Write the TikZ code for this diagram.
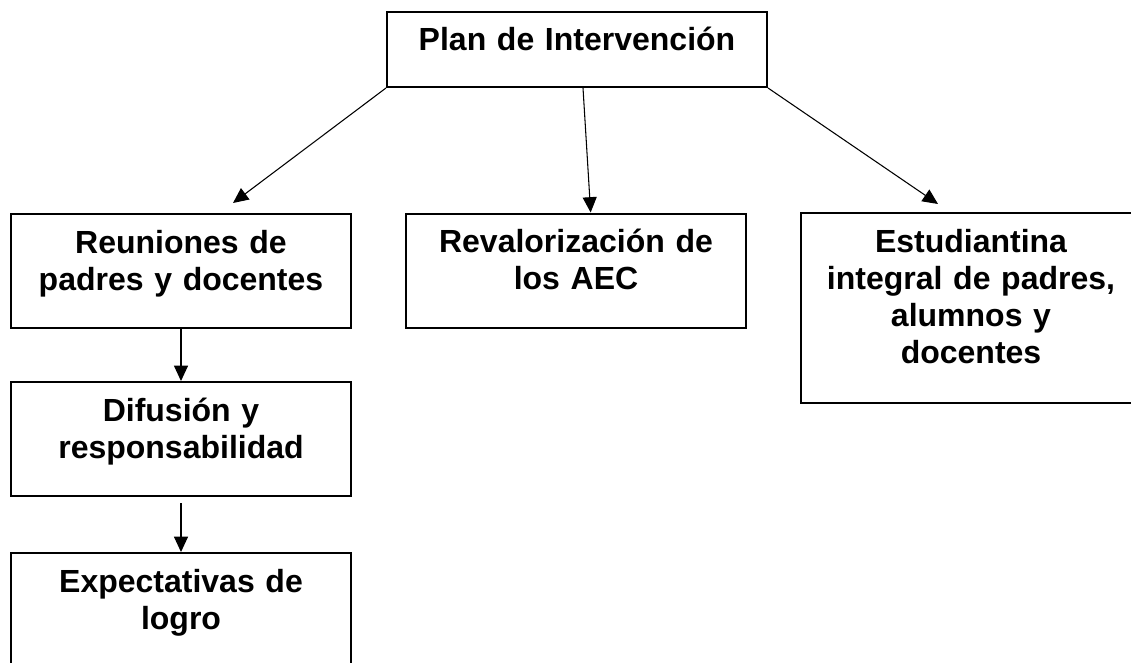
\documentclass[tikz,border=0pt]{standalone}
\usepackage{fontspec}
\setmainfont{Liberation Sans}
\usetikzlibrary{arrows.meta}

\begin{document}
\begin{tikzpicture}[x=0.75pt, y=-0.75pt,
  box/.style={draw, line width=1.5pt, minimum width=255pt, minimum height=85.5pt, inner sep=0pt},
  txt/.style={anchor=base, align=center, text width=240pt, inner sep=0pt, font=\fontsize{24}{27.75}\selectfont\bfseries},
  link/.style={-{Triangle[length=11.5pt,width=10.5pt]}, line width=0.8pt}]
\useasboundingbox (0,0) rectangle (1131,663);
\node[box, minimum width=285pt, minimum height=56.25pt] (plan) at (577,49.5){};
\node[box] (reun) at (181,271){};
\node[box] (reval) at (576,270.5){};
\node[box, minimum height=142.5pt] (estud) at (971,308){};
\node[box] (difus) at (181,439){};
\node[box] (expec) at (181,610){};
\node[txt] (planT) at ([yshift=-30pt]plan.north){Plan de Intervención};
\node[txt] (reunT) at ([yshift=-30pt]reun.north){Reuniones de\\padres y docentes};
\node[txt] (revalT) at ([yshift=-30pt]reval.north){Revalorización de\\los AEC};
\node[txt] (estudT) at ([yshift=-30pt]estud.north){Estudiantina\\integral de padres,\\alumnos y\\docentes};
\node[txt] (difusT) at ([yshift=-30pt]difus.north){Difusión y\\responsabilidad};
\node[txt] (expecT) at ([yshift=-30pt]expec.north){Expectativas de\\logro};
\coordinate (reunIn) at (233,203);
\coordinate (estudIn) at (938,204);
\draw[link](plan.south west) -- (reunIn);
\draw[link]([xshift=4.5pt]plan.south) -- ([xshift=11pt]reval.north);
\draw[link](plan.south east) -- (estudIn);
\draw[link](reun) -- (difus);
\draw[link, shorten <=4.5pt](difus) -- (expec);

\end{tikzpicture}
\end{document}
